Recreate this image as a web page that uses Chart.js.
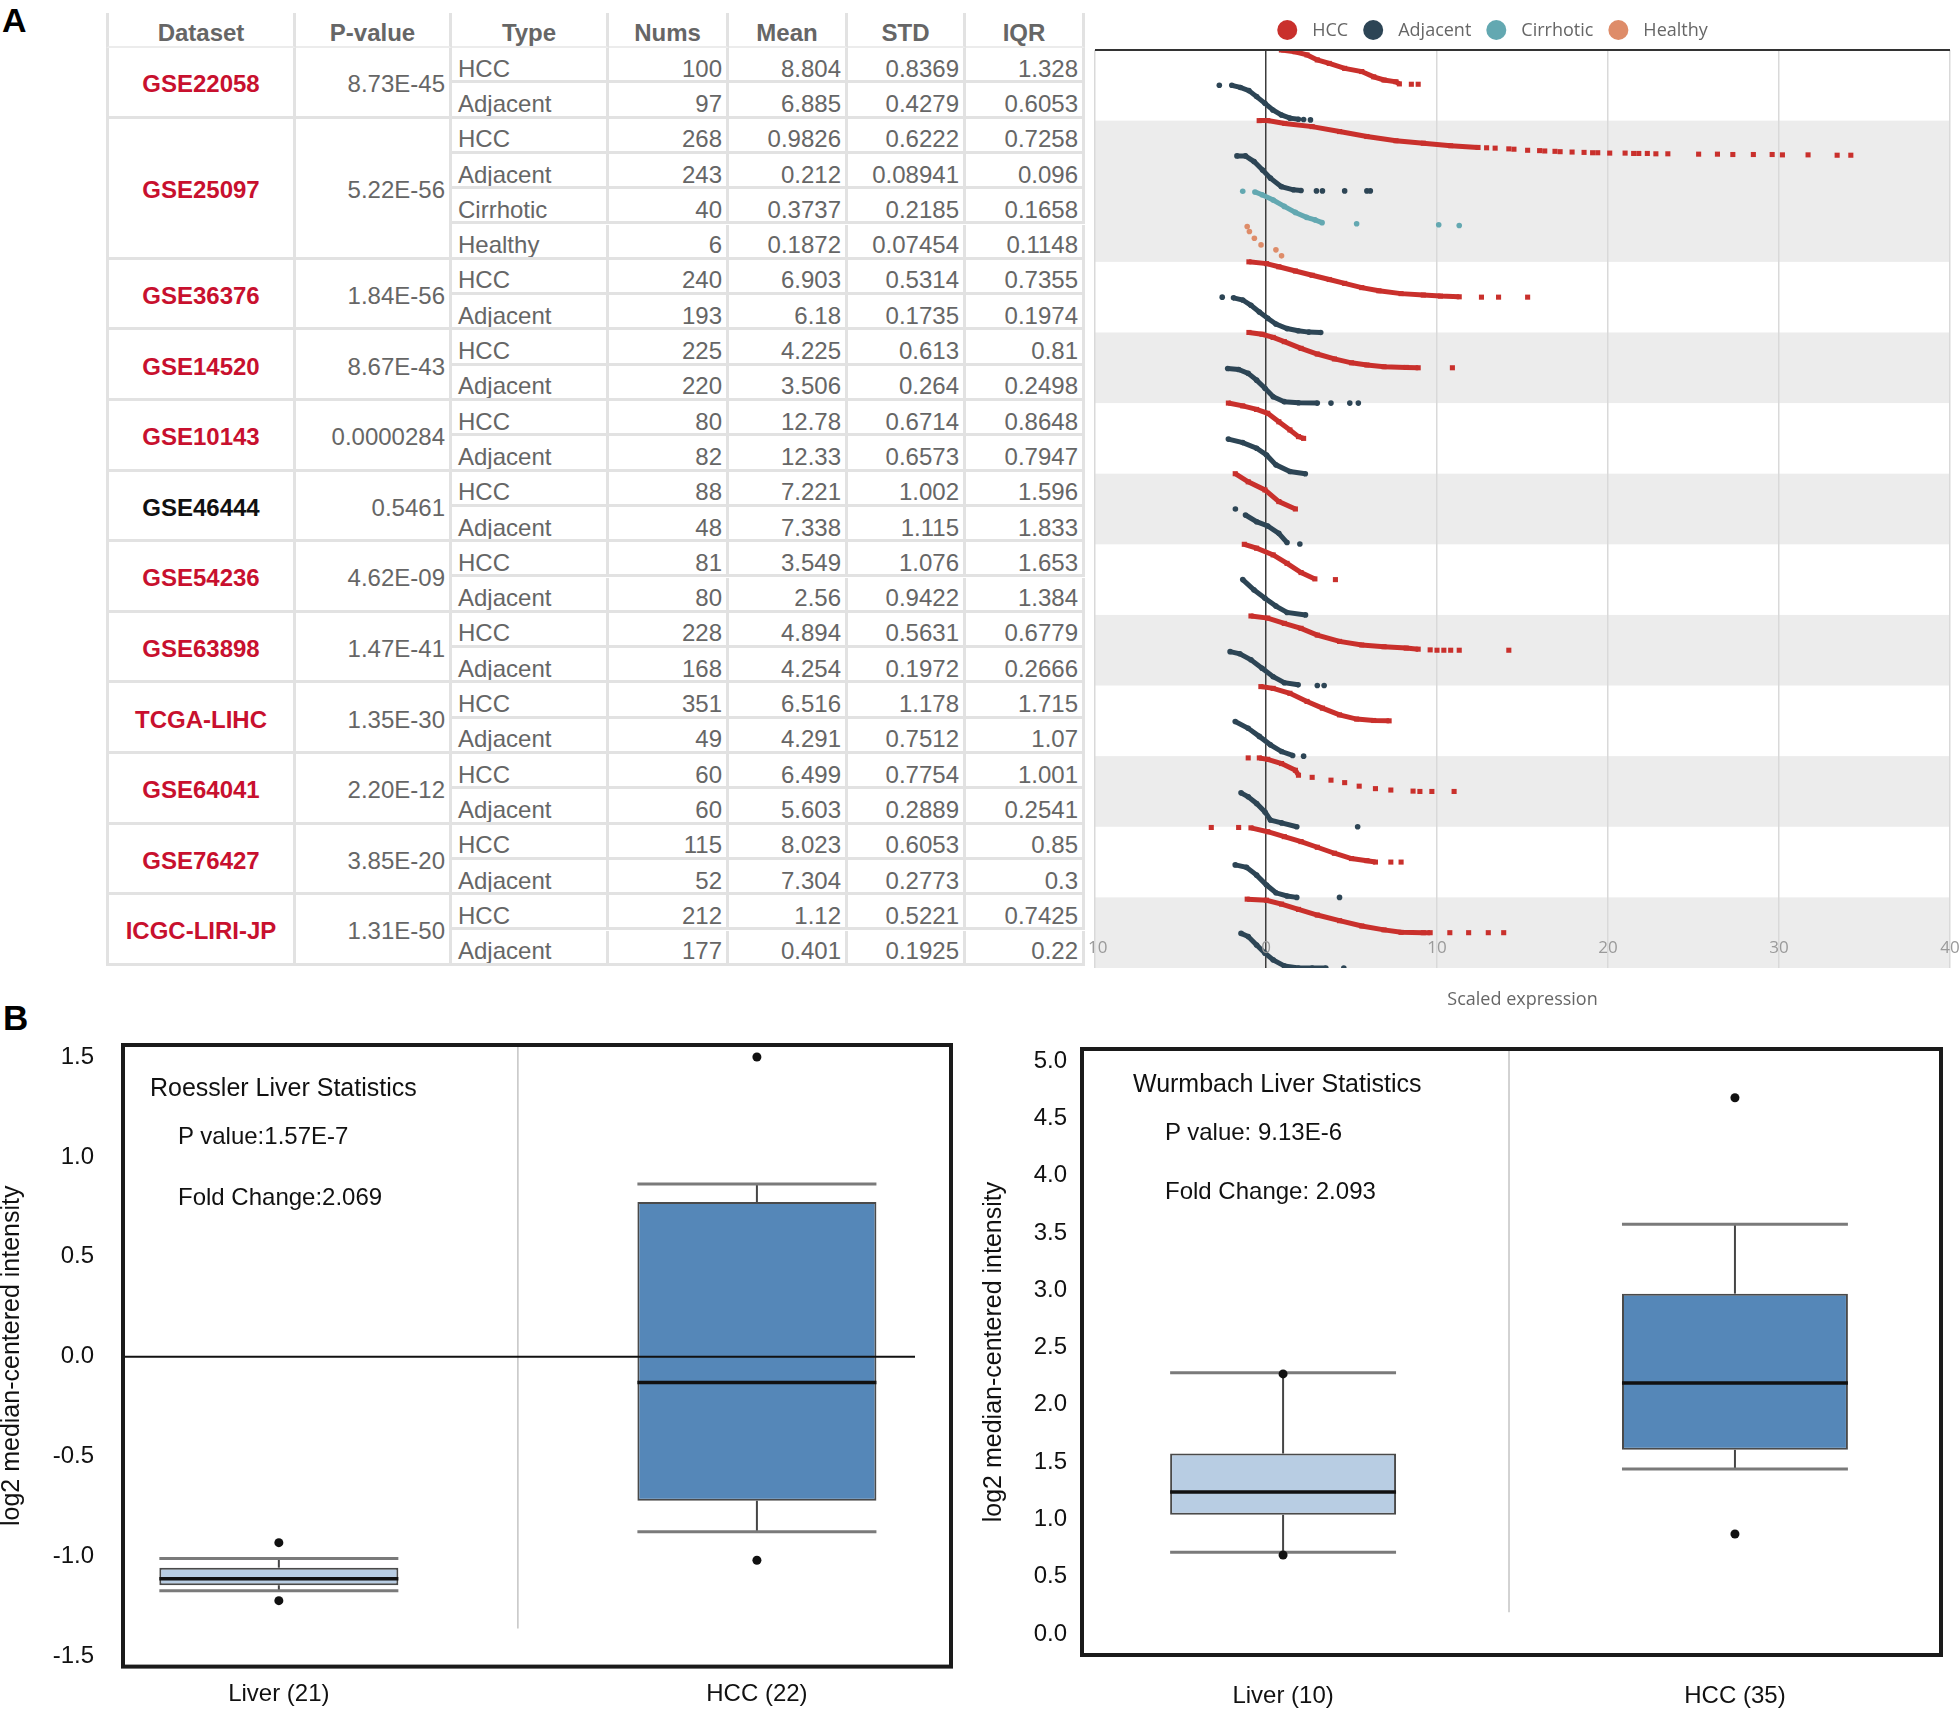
<!DOCTYPE html>
<html lang="en">
<head>
<meta charset="utf-8">
<title>Expression across HCC datasets</title>
<script src="https://cdn.jsdelivr.net/npm/chart.js@4.4.1/dist/chart.umd.min.js"></script>
<style>
  html, body { margin: 0; padding: 0; background: #fff; }
  body { position: relative; width: 1959px; height: 1710px; overflow: hidden;
         font-family: 'Liberation Sans', Arial, sans-serif; }
  .painel { position: absolute; font-weight: bold; line-height: 1; color: #000; }
  .cel { position: absolute; box-sizing: border-box; display: flex; align-items: center;
         border-right: 3px solid #e2e2e2; border-bottom: 3px solid #e2e2e2; padding-top: 9px;
         font-size: 24px; line-height: 1; color: #666; white-space: nowrap; overflow: hidden; }
  .cel.cab { font-weight: bold; justify-content: center; border-bottom: 2px solid #ececec; padding-top: 6px; }
  .cel.nome { font-weight: bold; justify-content: center; padding-top: 5px; }
  .cel.dir { justify-content: flex-end; padding-right: 4px; }
  .cel.esq { justify-content: flex-start; padding-left: 6px; }
  .cel.grupo { padding-top: 5px; }
  .cel.primeira { border-left: 3px solid #e2e2e2; }
  .nota { position: absolute; line-height: 1; color: #111; white-space: nowrap; }
  canvas { position: absolute; }
</style>
</head>
<body>
<div class="painel" style="left:2px;top:3px;font-size:34px">A</div>
<div class="painel" style="left:3px;top:1000px;font-size:35px">B</div>
<div id="tabela"></div>
<canvas id="graficoFaixas" width="929" height="1013" style="left:1030px;top:0"></canvas>
<canvas id="boxRoessler" width="960" height="710" style="left:0;top:1000px"></canvas>
<canvas id="boxWurmbach" width="999" height="710" style="left:960px;top:1000px"></canvas>
<div class="nota" style="left:150px;top:1075px;font-size:25px">Roessler Liver Statistics</div>
<div class="nota" style="left:178px;top:1124px;font-size:24px">P value:1.57E-7</div>
<div class="nota" style="left:178px;top:1185px;font-size:24px">Fold Change:2.069</div>
<div class="nota" style="left:1133px;top:1071px;font-size:25px">Wurmbach Liver Statistics</div>
<div class="nota" style="left:1165px;top:1120px;font-size:24px">P value: 9.13E-6</div>
<div class="nota" style="left:1165px;top:1179px;font-size:24px">Fold Change: 2.093</div>

<script>
// ===== Table data (panel A) =====
const tableHeader = ['Dataset', 'P-value', 'Type', 'Nums', 'Mean', 'STD', 'IQR'];
const datasetNames = ['GSE22058', 'GSE25097', 'GSE36376', 'GSE14520', 'GSE10143', 'GSE46444',
                      'GSE54236', 'GSE63898', 'TCGA-LIHC', 'GSE64041', 'GSE76427', 'ICGC-LIRI-JP'];
const pValues = ['8.73E-45', '5.22E-56', '1.84E-56', '8.67E-43', '0.0000284', '0.5461',
                 '4.62E-09', '1.47E-41', '1.35E-30', '2.20E-12', '3.85E-20', '1.31E-50'];
const groupTypes = [
  ['HCC', 'Adjacent'], ['HCC', 'Adjacent', 'Cirrhotic', 'Healthy'], ['HCC', 'Adjacent'],
  ['HCC', 'Adjacent'], ['HCC', 'Adjacent'], ['HCC', 'Adjacent'], ['HCC', 'Adjacent'],
  ['HCC', 'Adjacent'], ['HCC', 'Adjacent'], ['HCC', 'Adjacent'], ['HCC', 'Adjacent'], ['HCC', 'Adjacent']
];
const nums = [100, 97, 268, 243, 40, 6, 240, 193, 225, 220, 80, 82, 88, 48, 81, 80, 228, 168, 351, 49, 60, 60, 115, 52, 212, 177];
const means = [8.804, 6.885, 0.9826, 0.212, 0.3737, 0.1872, 6.903, 6.18, 4.225, 3.506, 12.78, 12.33, 7.221, 7.338,
               3.549, 2.56, 4.894, 4.254, 6.516, 4.291, 6.499, 5.603, 8.023, 7.304, 1.12, 0.401];
const stds = [0.8369, 0.4279, 0.6222, 0.08941, 0.2185, 0.07454, 0.5314, 0.1735, 0.613, 0.264, 0.6714, 0.6573, 1.002,
              1.115, 1.076, 0.9422, 0.5631, 0.1972, 1.178, 0.7512, 0.7754, 0.2889, 0.6053, 0.2773, 0.5221, 0.1925];
const iqrs = [1.328, 0.6053, 0.7258, 0.096, 0.1658, 0.1148, 0.7355, 0.1974, 0.81, 0.2498, 0.8648, 0.7947, 1.596,
              1.833, 1.653, 1.384, 0.6779, 0.2666, 1.715, 1.07, 1.001, 0.2541, 0.85, 0.3, 0.7425, 0.22];

// ===== Strip plot data: sorted scaled expression of each row =====
// [scaled expression, rank position inside the row (0 = top, 1 = bottom)]
const gse22058Hcc = [[0.9,0],[1.7,0.05],[2.4,0.14],[3.0,0.28],[3.7,0.38],[4.6,0.52],[5.6,0.61],[6.3,0.76],[6.9,0.85],[7.6,0.9],[7.8,0.96]];
const gse22058Adj = [[-2.0,0],[-1.5,0.06],[-1.0,0.15],[-0.55,0.32],[-0.06,0.51],[0.4,0.7],[0.9,0.84],[1.4,0.93],[1.9,0.96]];
const gse25097Hcc = [[-0.4,0],[0.1,0],[1.1,0.08],[2.7,0.17],[4.3,0.31],[5.9,0.45],[7.6,0.57],[9.2,0.64],[10.8,0.71],[12.4,0.76]];
const gse25097Adj = [[-1.7,0],[-1.2,0],[-0.7,0.16],[-0.2,0.4],[0.26,0.63],[0.9,0.87],[1.6,0.96],[2.05,0.98]];
const gse25097Cir = [[-0.65,0.02],[-0.23,0.1],[0.42,0.25],[1.07,0.43],[1.72,0.6],[2.37,0.74],[2.86,0.81],[3.28,0.89]];
const gse25097Hea = [];
const gse36376Hcc = [[-1.0,0],[0.03,0.05],[0.75,0.14],[1.72,0.26],[2.7,0.38],[3.7,0.5],[4.6,0.61],[5.6,0.73],[6.6,0.82],[7.9,0.9],[9.2,0.94],[10.2,0.97],[11.3,0.99]];
const gse36376Adj = [[-1.9,0.02],[-1.36,0.08],[-0.88,0.23],[-0.39,0.42],[0.1,0.6],[0.58,0.76],[1.23,0.89],[1.88,0.95],[2.5,0.99],[3.2,1]];
const gse14520Hcc = [[-1.0,0],[-0.23,0.05],[0.42,0.14],[1.07,0.26],[2.05,0.45],[3.0,0.61],[4.0,0.75],[5.0,0.86],[5.9,0.92],[6.9,0.97],[8.2,0.99],[8.9,1]];
const gse14520Adj = [[-2.24,0.02],[-1.6,0.05],[-1.04,0.16],[-0.55,0.35],[-0.06,0.58],[0.42,0.82],[1.07,0.96],[1.9,0.99],[3.0,1]];
const gse10143Hcc = [[-2.2,0],[-1.36,0.08],[-0.55,0.18],[0.1,0.29],[0.75,0.53],[1.4,0.76],[1.9,0.95],[2.2,1]];
const gse10143Adj = [[-2.2,0.02],[-1.36,0.12],[-0.55,0.28],[0.03,0.47],[0.58,0.75],[1.4,0.94],[2.3,1]];
const gse46444Hcc = [[-1.8,0],[-1.04,0.23],[-0.06,0.46],[0.75,0.79],[1.72,1]];
const gse46444Adj = [[-1.2,0.17],[-0.55,0.36],[0.1,0.48],[0.75,0.69],[1.23,0.95]];
const gse54236Hcc = [[-1.27,0],[-0.55,0.11],[0.42,0.3],[1.23,0.54],[2.05,0.8],[2.86,0.98]];
const gse54236Adj = [[-1.36,0],[-0.71,0.29],[-0.06,0.53],[0.58,0.75],[1.23,0.93],[2.31,1]];
const gse63898Hcc = [[-0.88,0.03],[0.1,0.09],[1.07,0.24],[2.05,0.38],[3.0,0.57],[4.3,0.75],[5.6,0.85],[6.9,0.9],[8.2,0.94],[8.9,0.97]];
const gse63898Adj = [[-2.1,0.04],[-1.53,0.1],[-0.88,0.27],[-0.23,0.51],[0.42,0.75],[1.07,0.92],[1.88,0.98]];
const tcgaHcc = [[-0.3,0.03],[0.42,0.08],[1.4,0.22],[2.4,0.45],[3.3,0.64],[4.3,0.83],[5.3,0.95],[6.3,0.99],[7.2,1]];
const tcgaAdj = [[-1.8,0.02],[-1.04,0.21],[-0.39,0.44],[0.26,0.68],[0.91,0.87],[1.56,0.98]];
const gse64041Hcc = [[-0.39,0.05],[0.1,0.09],[0.91,0.21],[1.72,0.4],[1.9,0.54]];
const gse64041Adj = [[-1.46,0.04],[-1.04,0.15],[-0.55,0.34],[-0.06,0.58],[0.26,0.81],[0.91,0.89],[1.8,1]];
const gse76427Hcc = [[-0.88,0.03],[0.1,0.14],[1.07,0.28],[2.05,0.42],[3.0,0.58],[4.0,0.75],[5.0,0.9],[5.9,0.96],[6.4,1]];
const gse76427Adj = [[-1.8,0.08],[-1.14,0.15],[-0.55,0.37],[0.03,0.65],[0.58,0.87],[1.23,0.96],[1.8,1]];
const icgcHcc = [[-1.1,0.05],[0.03,0.08],[0.91,0.19],[1.9,0.34],[3.0,0.5],[4.3,0.66],[5.6,0.81],[6.9,0.92],[7.9,0.99],[9.2,1],[9.6,1]];
const icgcAdj = [[-1.46,0.02],[-1.04,0.11],[-0.55,0.35],[-0.06,0.58],[0.42,0.77],[1.07,0.94],[1.9,1],[2.7,1],[3.5,1]];

// isolated samples away from the dense part of a row: [row, scaled expression, rank position]
const looseDots = [
  [0,8.5,0.97],[0,8.9,0.97],
  [1,-2.73,0],[1,2.2,0.97],[1,2.6,0.98],
  [2,12.9,0.77],[2,13.4,0.78],[2,14.2,0.8],[2,14.5,0.81],[2,15.3,0.84],[2,16.0,0.85],[2,16.3,0.86],[2,16.9,0.87],
  [2,17.2,0.88],[2,17.9,0.89],[2,18.6,0.9],[2,19.1,0.91],[2,19.4,0.91],[2,20.1,0.92],[2,21.0,0.92],[2,21.5,0.93],
  [2,21.8,0.93],[2,22.3,0.93],[2,22.8,0.94],[2,23.5,0.94],[2,25.3,0.95],[2,26.4,0.95],[2,27.3,0.96],[2,28.5,0.96],
  [2,29.6,0.96],[2,30.2,0.97],[2,31.7,0.97],[2,33.4,0.98],[2,34.2,0.98],
  [3,2.95,0.99],[3,3.3,0.99],[3,4.6,0.99],[3,5.9,0.99],[3,6.1,0.99],
  [4,-1.36,0],[4,5.3,0.92],[4,10.1,0.95],[4,11.3,0.97],
  [5,-1.1,0],[5,-0.97,0.14],[5,-0.68,0.33],[5,-0.29,0.52],[5,0.58,0.66],[5,0.91,0.83],
  [6,12.6,1],[6,13.6,1],[6,15.3,1],
  [7,-2.56,0],
  [8,10.9,1],
  [9,3.8,1],[9,4.9,1],[9,5.4,1],
  [13,-1.79,0],[13,1.98,0.99],
  [14,4.06,1],
  [16,9.6,0.99],[16,10.0,1],[16,10.4,1],[16,10.8,1],[16,11.3,1],[16,14.2,1],
  [17,3.0,1],[17,3.4,1],
  [19,2.2,1],
  [20,-1.04,0.05],[20,2.7,0.6],[20,3.8,0.68],[20,4.6,0.75],[20,5.45,0.85],[20,6.4,0.92],[20,7.3,0.96],
  [20,8.6,0.99],[20,9.0,1],[20,9.7,1],[20,11.0,1],
  [21,5.36,1],
  [22,-3.2,0.02],[22,-1.6,0.02],[22,7.3,1],[22,7.9,1],
  [23,4.3,1],
  [24,10.75,1],[24,11.85,1],[24,13.0,1],[24,13.9,1],
  [25,4.55,1]
];
const xTicks = [-10, 0, 10, 20, 30, 40];

// ===== Box plot data (panel B) =====
const roesslerGroups = ['Liver (21)', 'HCC (22)'];
const roesslerLow = [-1.17, -0.875];
const roesslerQ1 = [-1.143, -0.72];
const roesslerMedian = [-1.11, -0.128];
const roesslerQ3 = [-1.055, 0.774];
const roesslerHigh = [-1.009, 0.865];
const roesslerOutliers = [[-0.93, -1.22], [1.5, -1.018]];

const wurmbachGroups = ['Liver (10)', 'HCC (35)'];
const wurmbachLow = [0.714, 1.44];
const wurmbachQ1 = [1.04, 1.607];
const wurmbachMedian = [1.24, 2.19];
const wurmbachQ3 = [1.575, 2.97];
const wurmbachHigh = [2.28, 3.575];
const wurmbachOutliers = [[2.27, 0.69], [4.68, 0.873]];

Chart.defaults.font.family = "'Liberation Sans', Arial, sans-serif";
Chart.defaults.color = '#111';

// ===== Build the table =====
const colEdges = [106, 296, 452, 609, 729, 848, 966, 1085];
const headTop = 13, bodyTop = 48, rowH = 35.3;
const tabela = document.getElementById('tabela');

function addCell(text, c0, c1, y0, y1, cls) {
  const d = document.createElement('div');
  d.className = 'cel ' + cls + (c0 === 0 ? ' primeira' : '');
  d.style.left = colEdges[c0] + 'px';
  d.style.top = y0 + 'px';
  d.style.width = (colEdges[c1] - colEdges[c0]) + 'px';
  d.style.height = (y1 - y0) + 'px';
  d.textContent = text;
  tabela.appendChild(d);
  return d;
}

tableHeader.forEach((h, i) => addCell(h, i, i + 1, headTop, bodyTop, 'cab'));

let r = 0;
datasetNames.forEach((name, g) => {
  const types = groupTypes[g];
  const y0 = bodyTop + r * rowH, y1 = bodyTop + (r + types.length) * rowH;
  const nameCell = addCell(name, 0, 1, y0, y1, 'nome');
  nameCell.style.color = parseFloat(pValues[g]) < 0.05 ? '#c8102e' : '#111';
  addCell(pValues[g], 1, 2, y0, y1, 'dir grupo');
  types.forEach((t, k) => {
    const i = r + k;
    const ya = bodyTop + i * rowH, yb = ya + rowH;
    addCell(t, 2, 3, ya, yb, 'esq');
    addCell(nums[i], 3, 4, ya, yb, 'dir');
    addCell(means[i], 4, 5, ya, yb, 'dir');
    addCell(stds[i], 5, 6, ya, yb, 'dir');
    addCell(iqrs[i], 6, 7, ya, yb, 'dir');
  });
  r += types.length;
});

// ===== Strip plot =====
const stripTypes = groupTypes.flat();
const stripCurves = [gse22058Hcc, gse22058Adj, gse25097Hcc, gse25097Adj, gse25097Cir, gse25097Hea,
  gse36376Hcc, gse36376Adj, gse14520Hcc, gse14520Adj, gse10143Hcc, gse10143Adj, gse46444Hcc, gse46444Adj,
  gse54236Hcc, gse54236Adj, gse63898Hcc, gse63898Adj, tcgaHcc, tcgaAdj, gse64041Hcc, gse64041Adj,
  gse76427Hcc, gse76427Adj, icgcHcc, icgcAdj];
const typeOrder = ['HCC', 'Adjacent', 'Cirrhotic', 'Healthy'];
const typeColors = { HCC: '#c9302c', Adjacent: '#2d4555', Cirrhotic: '#63a8b1', Healthy: '#de8c69' };

function pointLook(t) {
  return t === 'HCC' ? { pointStyle: 'rect', pointRadius: 3.6 } : { pointStyle: 'circle', pointRadius: 2.8 };
}

const stripDatasets = [];
stripCurves.forEach((pts, row) => {
  if (!pts.length) return;
  const t = stripTypes[row];
  stripDatasets.push({
    label: t,
    data: pts.map(p => ({ x: p[0], y: row + p[1] })),
    showLine: true,
    borderColor: typeColors[t],
    backgroundColor: typeColors[t],
    borderWidth: 5,
    pointBorderWidth: 0,
    ...pointLook(t)
  });
});
typeOrder.forEach(t => {
  stripDatasets.push({
    label: t,
    data: looseDots.filter(d => stripTypes[d[0]] === t).map(d => ({ x: d[1], y: d[0] + d[2] })),
    showLine: false,
    borderColor: typeColors[t],
    backgroundColor: typeColors[t],
    pointBorderWidth: 0,
    ...pointLook(t)
  });
});

// grey bands behind every other dataset, top border, legend and tick labels inside the plot
const stripDecor = {
  id: 'stripDecor',
  beforeDraw(chart) {
    const { ctx, chartArea: a, scales: { y } } = chart;
    ctx.save();
    ctx.fillStyle = '#ececec';
    let start = 0;
    groupTypes.forEach((types, g) => {
      if (g % 2 === 1) {
        const y0 = y.getPixelForValue(start), y1 = y.getPixelForValue(start + types.length);
        ctx.fillRect(a.left, y0, a.right - a.left, y1 - y0);
      }
      start += types.length;
    });
    ctx.restore();
  },
  afterDraw(chart) {
    const { ctx, chartArea: a, scales: { x } } = chart;
    ctx.save();
    ctx.strokeStyle = '#333';
    ctx.lineWidth = 2;
    ctx.beginPath(); ctx.moveTo(a.left, a.top); ctx.lineTo(a.right, a.top); ctx.stroke();

    // legend: circle, then label
    ctx.font = "18px 'Open Sans'";
    ctx.textBaseline = 'middle';
    ctx.textAlign = 'left';
    const rad = 10, gap = 25, ly = 30;
    const widths = typeOrder.map(t => ctx.measureText(t).width);
    const span = rad + widths.reduce((s, w) => s + w + 2 * gap, 0) - gap;
    let cx = chart.width / 2 - 2 - span / 2 + rad;
    typeOrder.forEach((t, i) => {
      ctx.fillStyle = typeColors[t];
      ctx.beginPath(); ctx.arc(cx, ly, rad, 0, Math.PI * 2); ctx.fill();
      ctx.fillStyle = '#666';
      ctx.fillText(t, cx + gap, ly + 1);
      cx += 2 * gap + widths[i];
    });

    ctx.beginPath(); ctx.rect(a.left - 6, 0, chart.width, chart.height); ctx.clip();
    ctx.fillStyle = '#9a9a9a';
    ctx.font = "17px 'Open Sans'";
    ctx.textAlign = 'center';
    xTicks.forEach(v => ctx.fillText(String(v), x.getPixelForValue(v), a.bottom - 20));
    ctx.restore();
  }
};

const ctxStrip = document.getElementById('graficoFaixas').getContext('2d');
const graficoFaixas = new Chart(ctxStrip, {
  type: 'scatter',
  data: { datasets: stripDatasets },
  options: {
    responsive: false,
    animation: false,
    devicePixelRatio: 1,
    events: [],
    layout: { padding: { top: 50, right: 9, left: 0, bottom: 0 } },
    plugins: { legend: { display: false }, tooltip: { enabled: false } },
    scales: {
      x: {
        type: 'linear', min: -10, max: 40,
        ticks: { stepSize: 10, display: false },
        grid: { color: c => c.tick.value === 0 ? '#3c3c3c' : '#d9d9d9', lineWidth: 1.5, drawTicks: false },
        border: { display: false },
        title: { display: true, text: 'Scaled expression', color: '#666',
                 font: { family: 'Open Sans', size: 18 }, padding: { top: 0, bottom: 2 } },
        afterFit: s => { s.height = 45; }
      },
      y: {
        type: 'linear', min: 0, max: stripTypes.length, reverse: true,
        ticks: { display: false },
        grid: { display: false, drawTicks: false },
        border: { display: false },
        afterFit: s => { s.width = 65; }
      }
    }
  },
  plugins: [stripDecor]
});

// ===== Box plots =====
function line(ctx, x0, y0, x1, y1) {
  ctx.beginPath(); ctx.moveTo(x0, y0); ctx.lineTo(x1, y1); ctx.stroke();
}

function boxParts(low, q1, med, q3, high, zeroLine, sepEnd) {
  return {
    id: 'boxParts',
    beforeDatasetsDraw(chart) {
      const { ctx, chartArea: a, scales: { x, y } } = chart;
      const bars = chart.getDatasetMeta(0).data;
      ctx.save();
      ctx.strokeStyle = '#c4c4c4';
      ctx.lineWidth = 1.5;
      const sx = x.getPixelForValue(0.5);
      line(ctx, sx, a.top, sx, y.getPixelForValue(sepEnd));
      med.forEach((m, i) => {
        const cx = x.getPixelForValue(i), hw = bars[i].width / 2;
        const yLow = y.getPixelForValue(low[i]), yHigh = y.getPixelForValue(high[i]);
        ctx.strokeStyle = '#454545'; ctx.lineWidth = 2;
        line(ctx, cx, y.getPixelForValue(q3[i]), cx, yHigh);
        line(ctx, cx, y.getPixelForValue(q1[i]), cx, yLow);
        ctx.strokeStyle = '#7a7a7a'; ctx.lineWidth = 3;
        line(ctx, cx - hw, yHigh, cx + hw, yHigh);
        line(ctx, cx - hw, yLow, cx + hw, yLow);
      });
      ctx.restore();
    },
    afterDatasetsDraw(chart) {
      const { ctx, chartArea: a, scales: { x, y } } = chart;
      const bars = chart.getDatasetMeta(0).data;
      ctx.save();
      ctx.strokeStyle = '#111';
      ctx.lineWidth = 3.5;
      med.forEach((m, i) => {
        const cx = x.getPixelForValue(i), hw = bars[i].width / 2;
        line(ctx, cx - hw, y.getPixelForValue(m), cx + hw, y.getPixelForValue(m));
      });
      if (zeroLine) {
        ctx.lineWidth = 2;
        line(ctx, a.left, y.getPixelForValue(0), a.right - 36, y.getPixelForValue(0));
      }
      ctx.restore();
    },
    afterDraw(chart) {
      const { ctx, chartArea: a } = chart;
      ctx.save();
      ctx.strokeStyle = '#1a1a1a';
      ctx.lineWidth = 4;
      ctx.strokeRect(a.left, a.top, a.right - a.left, a.bottom - a.top);
      ctx.restore();
    }
  };
}

function makeBoxChart(canvasId, groups, low, q1, med, q3, high, outliers, opt) {
  const ctx = document.getElementById(canvasId).getContext('2d');
  return new Chart(ctx, {
    type: 'bar',
    data: {
      datasets: [
        {
          type: 'bar',
          data: groups.map((g, i) => ({ x: i, y: [q1[i], q3[i]] })),
          backgroundColor: ['#b8cde3', '#5587b8'],
          borderColor: '#4a4a4a',
          borderWidth: 2,
          borderSkipped: false,
          categoryPercentage: 1,
          barPercentage: 0.5
        },
        {
          type: 'scatter',
          data: outliers.flatMap((vals, i) => vals.map(v => ({ x: i, y: v }))),
          backgroundColor: '#111',
          pointRadius: 4.5,
          pointBorderWidth: 0
        }
      ]
    },
    options: {
      responsive: false,
      animation: false,
      devicePixelRatio: 1,
      events: [],
      layout: { padding: { top: opt.top, right: opt.right, left: 0, bottom: 0 } },
      plugins: { legend: { display: false }, tooltip: { enabled: false } },
      scales: {
        x: {
          type: 'linear', min: opt.xMin, max: opt.xMax, offset: false,
          afterBuildTicks: s => { s.ticks = groups.map((g, i) => ({ value: i })); },
          ticks: { callback: v => groups[v], color: '#111', font: { size: 24 }, padding: opt.xPad,
                   autoSkip: false, maxRotation: 0 },
          grid: { display: false, drawTicks: false },
          border: { display: false },
          afterFit: s => { s.height = opt.xH; }
        },
        y: {
          type: 'linear', min: opt.yMin, max: opt.yMax,
          ticks: { stepSize: 0.5, includeBounds: false, callback: v => v.toFixed(1), color: '#111',
                   font: { size: 24 }, padding: opt.yPad },
          grid: { display: false, drawTicks: false },
          border: { display: false },
          title: { display: true, text: 'log2 median-centered intensity', color: '#111',
                   font: { size: 25, lineHeight: 1 }, padding: { top: opt.titlePad, bottom: 0 } },
          afterFit: s => { s.width = opt.yW; }
        }
      }
    },
    plugins: [boxParts(low, q1, med, q3, high, opt.zeroLine, opt.sepEnd)]
  });
}

const boxRoessler = makeBoxChart('boxRoessler', roesslerGroups, roesslerLow, roesslerQ1, roesslerMedian,
  roesslerQ3, roesslerHigh, roesslerOutliers,
  { top: 45, right: 9, xMin: -0.326, xMax: 1.406, yMin: -1.55, yMax: 1.56, xH: 42, xPad: 13.6,
    yW: 123, yPad: 29, titlePad: 0, zeroLine: true, sepEnd: -1.36 });

const boxWurmbach = makeBoxChart('boxWurmbach', wurmbachGroups, wurmbachLow, wurmbachQ1, wurmbachMedian,
  wurmbachQ3, wurmbachHigh, wurmbachOutliers,
  { top: 49, right: 18, xMin: -0.445, xMax: 1.456, yMin: -0.183, yMax: 5.105, xH: 55, xPad: 26.6,
    yW: 122, yPad: 15, titlePad: 21.5, zeroLine: false, sepEnd: 0.19 });
</script>
</body>
</html>
